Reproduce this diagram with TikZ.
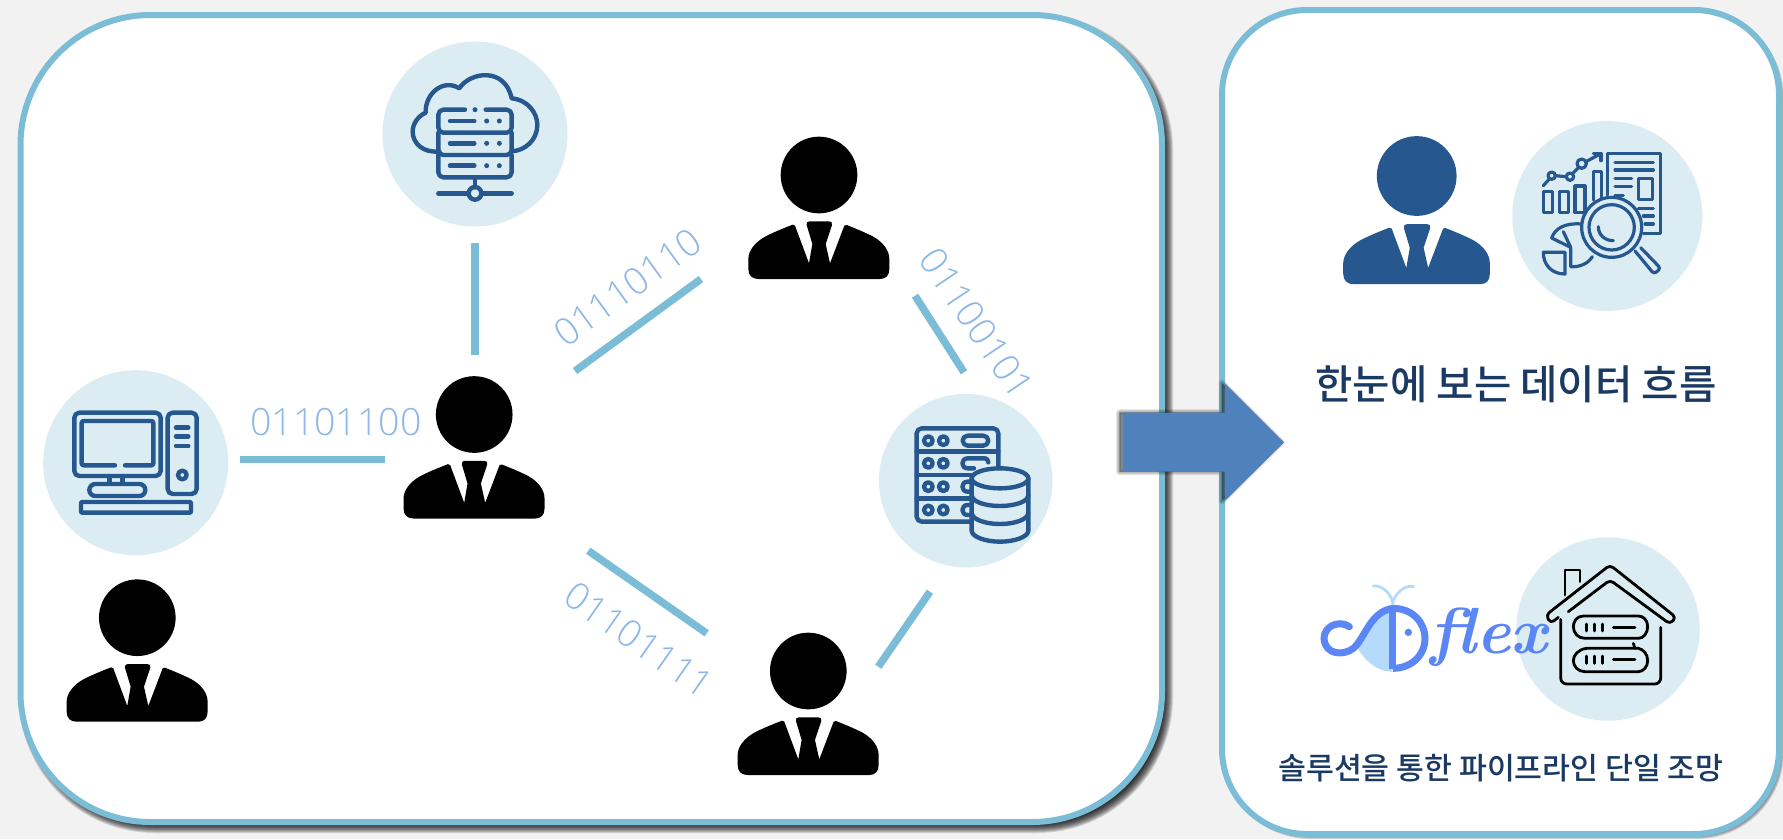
\documentclass[tikz,border=0pt]{standalone}
\usepackage{fontspec}
\setmainfont{Liberation Sans}
\newfontfamily\krfont[UprightFont=* Medium]{Noto Sans CJK KR}
\newfontfamily\binfont[UprightFont=* Light]{Open Sans}
\usetikzlibrary{calc}
\definecolor{pagebg}{HTML}{F2F2F2}
\definecolor{panelline}{HTML}{7BBDD6}
\definecolor{circlefill}{HTML}{DBEDF3}
\definecolor{iconblue}{HTML}{27578F}
\definecolor{arrowblue}{HTML}{4F81BD}
\definecolor{binblue}{HTML}{8DB7E8}
\definecolor{navy}{HTML}{1B3A63}
\definecolor{logoblue}{HTML}{5B86F5}
\definecolor{logolight}{HTML}{B5DBFB}
\tikzset{
  x=1pt,y=-1pt,
  panelbox/.style={draw=panelline,line width=6pt,fill=white},
  iconcircle/.style={circle,fill=circlefill,inner sep=0pt,minimum size=#1},
  link/.style={draw=panelline,line width=7.5pt},
  binlabel/.style={text=binblue,inner sep=0pt,font=\binfont\fontsize{37.5}{40}\selectfont},
  ico/.style={draw=iconblue,line width=#1,line cap=round,line join=round},
  ico/.default=4.4pt,
  hico/.style={draw=black,line width=2.8pt,line cap=round,line join=round},
  krtext/.style={text=navy,inner sep=0pt},
  person/.pic={
    \begin{scope}[shift={(-262,-143)}]
      \fill[pic actions] (262,143) circle[radius=115];
      \fill[pic actions] (50,425) .. controls (50,445) and (62,455) .. (80,455)
        -- (445,455) .. controls (462,455) and (473,445) .. (473,425)
        -- (473,395) .. controls (473,370) and (455,345) .. (425,328)
        .. controls (400,315) and (370,303) .. (345,293)
        -- (338,295) -- (295,408) -- (282,350) -- (301,293)
        .. controls (303,285) and (298,282) .. (292,282)
        -- (234,282) .. controls (228,282) and (223,285) .. (225,293)
        -- (242,350) -- (232,408) -- (190,295) -- (183,292)
        .. controls (155,303) and (125,315) .. (100,328)
        .. controls (70,345) and (50,370) .. (50,395) -- cycle;
    \end{scope}
  }
}
\begin{document}
\begin{tikzpicture}
\useasboundingbox (0,0) rectangle (1783,839);
\fill[pagebg] (0,0) rectangle (1783,839);

% left panel
\foreach \ee [evaluate=\ee as \rr using 130+\ee] in {-6,...,6}
  \fill[black,opacity=.14,rounded corners=\rr pt] ({25-\ee},{20-\ee}) rectangle ({1167+\ee},{827+\ee});
\draw[panelbox,rounded corners=130pt] (20.5,15) rectangle (1162,822);
% right panel
\foreach \ee [evaluate=\ee as \rr using 85+\ee] in {-2,...,2}
  \fill[black,opacity=.14,rounded corners=\rr pt] ({1225-\ee},{13-\ee}) rectangle ({1782+\ee},{837+\ee});
\draw[panelbox,rounded corners=85pt] (1222,10) rectangle (1779,834);

% circles
\node[iconcircle=185pt] (cloudc) at (475,134) {};
\node[iconcircle=185pt] (pcc) at (135.7,462.7) {};
\node[iconcircle=173.5pt] (dbc) at (965.7,480.7) {};
\node[iconcircle=190pt] (repc) at (1607.3,216) {};
\node[iconcircle=183.5pt] (housec) at (1608,629) {};

% cloud icon
\begin{scope}[shift={(360,30)},scale=1/3]
  \draw[ico] (238,364) .. controls (190,370) and (158,340) .. (158,305)
    .. controls (158,280) and (175,258) .. (197,248)
    .. controls (195,190) and (250,145) .. (298,175)
    .. controls (330,125) and (435,110) .. (455,205)
    .. controls (505,210) and (532,250) .. (532,285)
    .. controls (532,330) and (495,362) .. (455,364);
  \draw[ico,rounded corners=5pt] (315,239) -- (235,239) -- (235,308) -- (455,308) -- (455,239) -- (377,239);
  \draw[ico,rounded corners=5pt] (235,308) -- (235,375) -- (455,375) -- (455,308);
  \draw[ico,rounded corners=5pt] (235,375) -- (235,442) -- (455,442) -- (455,375);
  \foreach \yy in {273,340,407}{
    \draw[ico] (270,\yy) -- (343,\yy);
    \fill[iconblue] (380,\yy) circle[radius=7.5] (418,\yy) circle[radius=7.5];
  }
  \fill[iconblue] (345,239) circle[radius=7.5];
  \draw[ico] (345,442) -- (345,472) (235,490) -- (324,490) (366,490) -- (455,490);
  \draw[ico] (345,490) circle[radius=19];
\end{scope}

% computer icon
\begin{scope}[shift={(30,360)},scale=1/3]
  \draw[ico,rounded corners=5pt] (133,158) rectangle (392,348);
  \draw[ico,rounded corners=2pt] (255,316) -- (155,316) -- (155,183) -- (370,183) -- (370,316) -- (285,316);
  \draw[ico] (238,348) -- (238,370) (278,348) -- (278,370);
  \draw[ico,rounded corners=6pt] (178,372) rectangle (346,408);
  \draw[ico,rounded corners=1pt] (153,426) rectangle (483,458);
  \draw[ico,rounded corners=5pt] (413,158) rectangle (500,402);
  \draw[ico] (438,203) -- (475,203) (438,229) -- (475,229) (438,258) -- (475,258);
  \draw[ico] (457,345) circle[radius=13];
\end{scope}

% database icon
\begin{scope}[shift={(870,380)},scale=1/3]
  \draw[ico,rounded corners=5pt] (303,425) -- (140,425) -- (140,145) -- (385,145) -- (385,264);
  \draw[ico] (140,215) -- (385,215) (140,285) -- (303,285) (140,355) -- (303,355);
  \foreach \yy in {182,250,320,390}{
    \draw[ico] (175,\yy) circle[radius=13] (220,\yy) circle[radius=13];
  }
  \draw[ico,rounded corners=5pt] (278,167) rectangle (355,197);
  \draw[ico] (355,247) .. controls (355,240) and (350,235) .. (345,235) -- (293,235)
    .. controls (272,235) and (272,265) .. (293,265) -- (312,265);
  \draw[ico] (303,305) -- (293,305) .. controls (272,305) and (272,335) .. (293,335) -- (303,335);
  \draw[ico] (303,375) -- (293,375) .. controls (272,375) and (272,405) .. (293,405) -- (303,405);
  \draw[ico] (390,295) ellipse[x radius=85,y radius=30];
  \draw[ico] (305,295) -- (305,452) .. controls (305,470) and (345,485) .. (390,485)
    .. controls (435,485) and (475,470) .. (475,452) -- (475,295);
  \draw[ico] (305,345) .. controls (305,365) and (345,378) .. (390,378) .. controls (435,378) and (475,365) .. (475,345);
  \draw[ico] (305,398) .. controls (305,418) and (345,432) .. (390,432) .. controls (435,432) and (475,418) .. (475,398);
\end{scope}

% report icon
\begin{scope}[shift={(1330,120)},scale=1/3]
  \draw[ico=3.2pt] (832,225) -- (832,100) -- (992,100) -- (992,340) -- (940,340);
  \draw[ico=3.2pt] (855,127) -- (970,127) (855,150) -- (970,150) (855,175) -- (905,175) (855,200) -- (905,200) (855,226) -- (880,226);
  \draw[ico=3.2pt] (926,175) rectangle (968,238);
  \draw[ico=3.2pt] (925,265) -- (970,265) (940,288) -- (970,288) (945,312) -- (970,312);
  \draw[ico=3.2pt] (640,215) rectangle (668,278) (688,215) rectangle (716,278) (735,198) rectangle (765,278);
  \draw[ico=3.2pt] (790,240) -- (790,155) -- (815,155) -- (815,235);
  \draw[ico=3.2pt] (640,197) -- (657,178) (676,167) -- (708,170) (728,160) -- (745,143) (768,125) -- (810,102);
  \draw[ico=3.2pt] (790,100) -- (813,100) -- (813,122);
  \draw[ico=3.2pt] (665,167) circle[radius=11] (720,170) circle[radius=11] (755,131) circle[radius=14];
  \draw[ico=3.2pt] (665,354) .. controls (675,325) and (705,308) .. (755,312);
  \draw[ico=3.2pt] (665,354) -- (722,382) -- (722,440) .. controls (750,442) and (775,430) .. (787,410);
  \draw[ico=3.2pt] (700,335) -- (722,382);
  \draw[ico=3.2pt] (640,397) -- (705,397) -- (705,462) .. controls (665,462) and (640,435) .. cycle;
  \draw[ico=3.2pt,rounded corners=3pt] (915,393) -- (972,462) -- (992,445) -- (932,383);
  \draw[ico=3.2pt,fill=circlefill] (845,322) circle[radius=90];
  \draw[ico=3.2pt] (845,322) circle[radius=68];
  \draw[ico=3.2pt] (805,320) .. controls (805,345) and (825,362) .. (850,362);
\end{scope}

% house icon
\begin{scope}[shift={(1310,530)},scale=1/3]
  \draw[hico] (765,195) -- (765,120) -- (810,120) -- (810,155);
  \draw[hico,rounded corners=4pt] (775,245) -- (900,150) -- (1080,282) -- (1098,262) -- (900,105) -- (708,255) -- (722,280) -- (745,262);
  \draw[hico,rounded corners=6pt] (752,268) -- (752,462) -- (1052,462) -- (1052,292);
  \draw[hico] (1013,290) .. controls (1013,270) and (1000,258) .. (985,258) -- (820,258)
    .. controls (800,258) and (790,275) .. (790,290) .. controls (790,310) and (805,325) .. (825,325) -- (985,325)
    .. controls (1000,325) and (1013,310) .. (1013,290);
  \draw[hico] (1013,392) .. controls (1013,372) and (1000,358) .. (985,355) -- (830,355)
    .. controls (805,358) and (790,375) .. (790,392) .. controls (790,410) and (805,425) .. (825,425) -- (985,425)
    .. controls (1000,425) and (1013,410) .. (1013,392);
  \draw[hico] (970,340) -- (975,355);
  \foreach \xx in {830,853,877}{
    \draw[hico] (\xx,282) -- (\xx,303) (\xx,378) -- (\xx,400);
  }
  \draw[hico] (910,292) -- (975,292) (910,388) -- (975,388);
\end{scope}

% logo
\begin{scope}[shift={(1310,530)},scale=1/3]
  \fill[logolight] (140,350) .. controls (165,395) and (205,425) .. (245,425) -- (245,232) .. controls (200,250) and (170,310) .. cycle;
  \draw[logolight,line width=2.8pt,line cap=round] (248,220) .. controls (245,190) and (215,165) .. (190,168);
  \draw[logolight,line width=2.8pt,line cap=round] (248,220) .. controls (255,190) and (285,163) .. (310,170);
  \draw[logoblue,line width=7pt,line cap=round] (118,290) .. controls (85,268) and (42,290) .. (42,325)
    .. controls (45,375) and (100,378) .. (130,355) .. controls (165,325) and (180,245) .. (248,235);
  \draw[logoblue,line width=7pt] (248,232) -- (248,418);
  \draw[logoblue,line width=7pt] (248,235) .. controls (310,235) and (345,280) .. (345,325) .. controls (345,375) and (305,415) .. (248,415);
  \fill[logoblue] (295,307) circle[radius=11];
\end{scope}
\node[text=logoblue,inner sep=0pt,font=\setmainfont{Latin Modern Roman}\fontsize{65}{70}\selectfont\bfseries\itshape] (flexlogo) at (1489,637) {flex};

% people
\pic[black,scale=1/3] (p1) at (137.3,617.7) {person};
\pic[black,scale=1/3] (p2) at (474.2,414.5) {person};
\pic[black,scale=1/3] (p3) at (819,175) {person};
\pic[black,scale=1/3] (p4) at (808.3,671) {person};
\pic[iconblue,scale=1.04/3] (p5) at (1416.7,176) {person};

% connectors
\coordinate (a1) at (475,243); \coordinate (a2) at (475,355);
\coordinate (b1) at (240,459.3); \coordinate (b2) at (385,459.3);
\coordinate (c1) at (575,371); \coordinate (c2) at (701,279);
\coordinate (d1) at (915,295.7); \coordinate (d2) at (964,372.3);
\coordinate (e1) at (588.3,550.7); \coordinate (e2) at (706.7,633.3);
\coordinate (f1) at (930,591.7); \coordinate (f2) at (878.3,666.7);
\draw[link] (a1) -- (a2);
\draw[link] (b1) -- (b2);
\draw[link] (c1) -- (c2);
\draw[link] (d1) -- (d2);
\draw[link] (e1) -- (e2);
\draw[link] (f1) -- (f2);

% binary labels
\node[binlabel] (bin1) at (335.8,422.3) {01101100};
\node[binlabel,rotate=36] (bin2) at (627.5,287.3) {01110110};
\node[binlabel,rotate=-56] (bin3) at (976.7,323) {01100101};
\node[binlabel,rotate=-35] (bin4) at (639,640) {01101111};

% texts
\node[krtext,font=\krfont\fontsize{40.6}{44}\selectfont] (t1) at (1516,384) {한눈에 보는 데이터 흐름};
\node[krtext,font=\krfont\fontsize{30.3}{33}\selectfont] (t2) at (1501,768) {솔루션을 통한 파이프라인 단일 조망};

% arrow
\foreach \ww in {1,3,5,7}
  \draw[black,opacity=.1,line width=\ww pt,line join=round,fill=black] (1119.7,412.7) -- (1222,412.7) -- (1222,383.3) -- (1281,442.3) -- (1222,500.7) -- (1222,471.7) -- (1119.7,471.7) -- cycle;
\fill[arrowblue] (1122.7,412.7) -- (1225,412.7) -- (1225,383.3) -- (1284,442.3) -- (1225,500.7) -- (1225,471.7) -- (1122.7,471.7) -- cycle;
\end{tikzpicture}
\end{document}
